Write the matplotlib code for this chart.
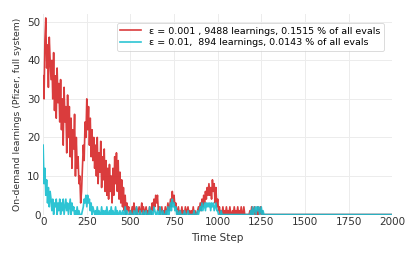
import numpy as np
import matplotlib
matplotlib.use("Agg")
import matplotlib.pyplot as plt

step = 5
n_total = 2000

red_vals = [
    36, 30, 45, 51, 38, 44, 33, 46, 40, 35,
    40, 30, 42, 27, 36, 25, 38, 29, 34, 24,
    35, 22, 30, 18, 33, 24, 28, 16, 31, 20,
    28, 15, 25, 12, 22, 17, 26, 10, 20, 12,
    15, 8, 10, 3, 6, 12, 18, 14, 24, 20,
    30, 22, 28, 18, 25, 15, 22, 14, 20, 12,
    18, 10, 20, 8, 16, 11, 19, 7, 15, 9,
    17, 6, 14, 5, 12, 4, 13, 6, 10, 3,
    12, 5, 15, 8, 16, 6, 14, 4, 11, 3,
    9, 2, 7, 1, 5, 0, 3, 1, 2, 0,
    1, 0, 2, 0, 3, 1, 0, 2, 0, 1,
    2, 0, 1, 3, 0, 2, 0, 1, 2, 0,
    1, 0, 2, 1, 0, 3, 1, 4, 2, 5,
    3, 5, 1, 2, 0, 1, 2, 0, 1, 0,
    2, 0, 1, 3, 1, 2, 4, 2, 6, 3,
    5, 2, 3, 1, 0, 2, 0, 1, 0, 2,
    0, 1, 0, 2, 0, 1, 2, 0, 1, 0,
    1, 0, 2, 0, 1, 0, 0, 1, 2, 1,
    3, 1, 4, 2, 5, 3, 6, 4, 7, 5,
    8, 5, 7, 4, 9, 6, 8, 3, 7, 2,
    4, 1, 2, 0, 1, 0, 2, 0, 1, 0,
    2, 0, 1, 0, 2, 0, 0, 1, 0, 2,
    0, 1, 0, 2, 0, 1, 0, 2, 0, 0,
    2, 0, 0, 0, 0, 0, 0, 1, 0, 2,
    0, 1, 2, 0, 1, 0, 2, 0, 1, 2,
    0, 1, 0, 0,
]

cyan_vals = [
    18, 8, 12, 5, 9, 3, 7, 2, 6, 4,
    1, 4, 0, 3, 2, 4, 0, 3, 1, 4,
    0, 3, 1, 4, 0, 2, 4, 1, 3, 0,
    2, 4, 0, 3, 1, 2, 0, 1, 0, 2,
    0, 1, 0, 0, 0, 1, 2, 4, 3, 5,
    2, 5, 3, 4, 1, 3, 0, 2, 1, 0,
    1, 0, 2, 0, 1, 0, 0, 2, 0, 1,
    0, 1, 0, 2, 0, 0, 1, 0, 2, 0,
    1, 0, 0, 2, 0, 1, 0, 0, 1, 0,
    0, 1, 0, 0, 2, 0, 1, 0, 0, 0,
    1, 0, 0, 0, 1, 0, 0, 2, 0, 0,
    0, 1, 0, 0, 0, 1, 0, 0, 1, 0,
    0, 0, 2, 0, 1, 0, 0, 2, 1, 0,
    0, 1, 0, 0, 2, 0, 0, 1, 0, 0,
    0, 1, 0, 2, 0, 1, 3, 1, 4, 2,
    3, 1, 2, 0, 1, 0, 0, 1, 0, 0,
    0, 0, 1, 0, 0, 0, 1, 0, 0, 0,
    0, 0, 0, 1, 0, 0, 0, 1, 0, 1,
    2, 1, 3, 1, 2, 3, 1, 3, 2, 3,
    2, 3, 1, 3, 2, 3, 1, 2, 3, 1,
    1, 0, 0, 0, 1, 0, 0, 0, 0, 0,
    0, 0, 0, 0, 0, 0, 0, 0, 0, 0,
    0, 0, 0, 0, 0, 0, 0, 0, 0, 0,
    0, 0, 0, 0, 0, 0, 0, 0, 1, 0,
    2, 0, 1, 2, 0, 2, 1, 2, 0, 1,
    2, 0, 1, 0,
]

labels = [
    "\u03b5 = 0.001 , 9488 learnings, 0.1515 % of all evals",
    "\u03b5 = 0.01,  894 learnings, 0.0143 % of all evals",
]
colors = ["#d62728", "#17becf"]


def pad(vals):
    arr = np.zeros(n_total // step + 1)
    arr[:len(vals)] = vals
    return arr


t = np.arange(0, n_total + 1, step)

plt.rcParams["font.family"] = "DejaVu Sans"
fig = plt.figure(figsize=(4.15, 2.56), dpi=100)
ax = fig.add_axes([0.104, 0.162, 0.841, 0.783])

for vals, lab, c in zip([red_vals, cyan_vals], labels, colors):
    ax.plot(t, pad(vals), color=c, lw=1.2, alpha=0.9, label=lab)

ax.set_xlim(0, 2000)
ax.set_ylim(0, 52)
ax.set_xticks([0, 250, 500, 750, 1000, 1250, 1500, 1750, 2000])
ax.set_yticks([0, 10, 20, 30, 40, 50])
ax.tick_params(length=0, labelsize=7.5, colors="#333333", pad=2)
ax.grid(True, color="#ececec", lw=0.7)
ax.set_axisbelow(True)
for s in ax.spines.values():
    s.set_visible(False)
ax.set_xlabel("Time Step", fontsize=7.5, color="#333333")
ax.set_ylabel("On-demand learnings (Pfizer, full system)", fontsize=6.7,
              color="#333333", labelpad=4)

leg = ax.legend(loc="upper right", fontsize=6.8, frameon=True, handlelength=2.2,
                borderpad=0.4, labelspacing=0.3, bbox_to_anchor=(0.99, 0.98))
leg.get_frame().set_edgecolor("#cccccc")
leg.get_frame().set_linewidth(0.6)

fig.savefig("out.png", dpi=100)
